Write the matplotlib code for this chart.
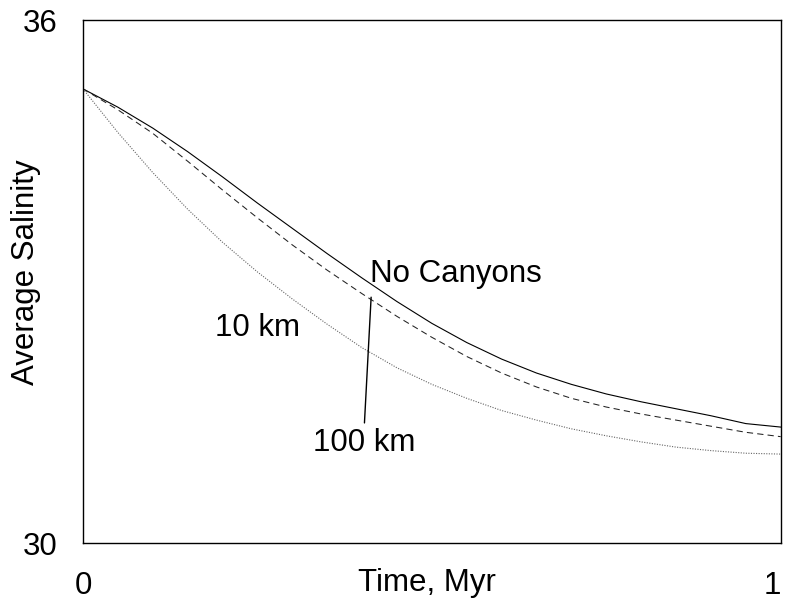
import matplotlib
matplotlib.use("Agg")
import matplotlib.pyplot as plt

plt.rcParams['font.family'] = ['Liberation Sans', 'DejaVu Sans']

# Time in Myr
time_myr = [0.00, 0.05, 0.10, 0.15, 0.20, 0.25, 0.30, 0.35, 0.40, 0.45, 0.50,
            0.55, 0.60, 0.65, 0.70, 0.75, 0.80, 0.85, 0.90, 0.95, 1.00]

# Average salinity for each scenario
sal_no_canyons = [35.21, 35.00, 34.76, 34.49, 34.20, 33.90, 33.61, 33.32, 33.04, 32.77, 32.52,
                  32.30, 32.11, 31.95, 31.82, 31.71, 31.62, 31.54, 31.46, 31.37, 31.33]
sal_100km = [35.21, 34.97, 34.70, 34.38, 34.05, 33.73, 33.42, 33.13, 32.86, 32.60, 32.36,
             32.14, 31.95, 31.79, 31.66, 31.56, 31.48, 31.41, 31.34, 31.27, 31.22]
sal_10km = [35.21, 34.71, 34.25, 33.83, 33.45, 33.11, 32.80, 32.51, 32.24, 32.01, 31.82,
            31.66, 31.52, 31.41, 31.31, 31.23, 31.16, 31.10, 31.06, 31.03, 31.02]

x_ticks = [0, 1]
y_ticks = [30, 36]

fig = plt.figure(figsize=(7.85, 6.08), dpi=100)
ax = fig.add_axes([0.1057, 0.1069, 0.8888, 0.8602])

ax.plot(time_myr, sal_no_canyons, color='black', lw=0.8, ls='-')
ax.plot(time_myr, sal_100km, color='#222222', lw=0.75, ls=(0, (6, 4)))
ax.plot(time_myr, sal_10km, color='#666666', lw=0.8, ls=(0, (1, 1.3)))

ax.set_xlim(0, 1)
ax.set_ylim(30, 36)
ax.set_xticks(x_ticks)
ax.set_yticks(y_ticks)
ax.tick_params(axis='both', length=0, labelsize=22.5)
ax.tick_params(axis='x', pad=20)
ax.tick_params(axis='y', pad=18.5)
xlabels = ax.get_xticklabels()
xlabels[-1].set_ha('right')

for sp in ax.spines.values():
    sp.set_linewidth(1.0)
    sp.set_color('black')

ax.set_xlabel('Time, Myr', fontsize=22.5)
ax.xaxis.set_label_coords(0.493, -0.0765)
ax.xaxis.label.set_va('center')
ax.set_ylabel('Average Salinity', fontsize=22.5)
ax.yaxis.set_label_coords(-0.0817, 0.518)
ax.yaxis.label.set_va('center')

ax.text(0.411, 32.994, 'No Canyons', fontsize=22.5, ha='left', va='baseline')
ax.text(0.189, 32.375, '10 km', fontsize=22.5, ha='left', va='baseline')
ax.annotate('100 km', xy=(0.413, 32.82), xytext=(0.403, 31.05),
            fontsize=22.5, ha='center', va='baseline',
            arrowprops=dict(arrowstyle='-', color='black', lw=1.0,
                            relpos=(0.5, 1.0), shrinkA=2, shrinkB=0))

fig.savefig('out.png', dpi=100)
